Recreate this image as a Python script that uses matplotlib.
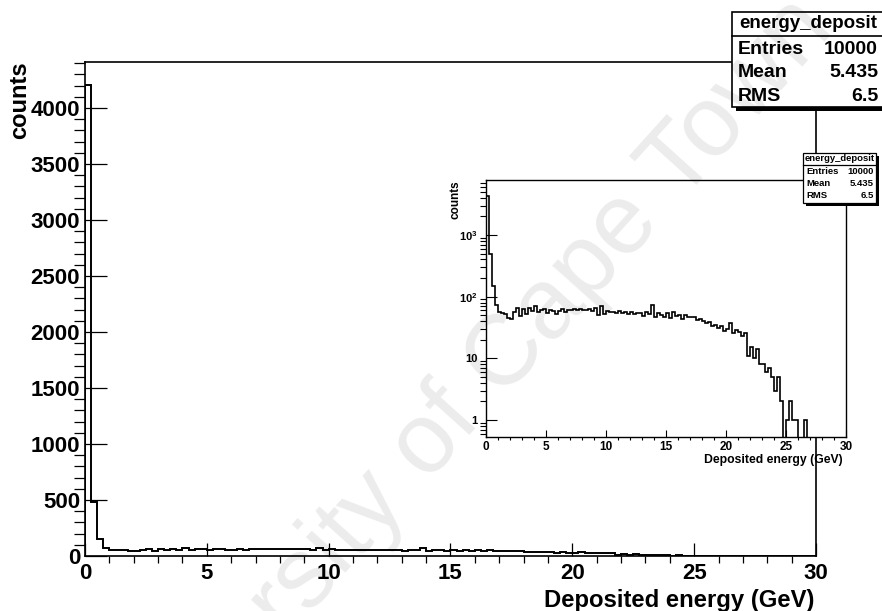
import numpy as np
import matplotlib
matplotlib.use("Agg")
import matplotlib.pyplot as plt
from matplotlib.patches import Rectangle
from matplotlib.lines import Line2D
from matplotlib.ticker import (MultipleLocator, LogLocator, FuncFormatter,
                               NullFormatter)

# ---- histogram contents: 120 bins of 0.25 GeV from 0 to 30 GeV ----
bin_width = 0.25
counts = [
    4205, 485, 150, 74,      # 0-1 GeV
    57, 54, 53, 45,          # 1-2
    44, 56, 66, 49,          # 2-3
    62, 52, 65, 58,          # 3-4
    70, 56, 60, 63,          # 4-5
    54, 61, 59, 52,          # 5-6
    58, 62, 57, 60,          # 6-7
    61, 62, 60, 63,          # 7-8
    61, 60, 62, 59,          # 8-9
    66, 50, 71, 52,          # 9-10
    59, 56, 57, 54,          # 10-11
    58, 55, 56, 53,          # 11-12
    57, 52, 55, 54,          # 12-13
    49, 56, 52, 74,          # 13-14
    46, 54, 50, 47,          # 14-15
    55, 45, 57, 49,          # 15-16
    51, 44, 50, 46,          # 16-17
    47, 46, 42, 43,          # 17-18
    40, 37, 39, 33,          # 18-19
    35, 31, 33, 28,          # 19-20
    30, 37, 26, 29,          # 20-21
    27, 23, 26, 11,          # 21-22
    15, 10, 14, 8,           # 22-23
    8, 6, 7, 5,              # 23-24
    3, 5, 2, 0,              # 24-25
    1, 2, 1, 1,              # 25-26
    0, 0, 1, 0,              # 26-27
    0, 0, 0, 0,              # 27-28
    0, 0, 0, 0,              # 28-29
    0, 0, 0, 0,              # 29-30
]
counts = np.array(counts, dtype=float)
edges = np.arange(len(counts) + 1) * bin_width

hist_name = "energy_deposit"
stat_names = ["Entries", "Mean", "RMS"]
stat_values = ["10000", "5.435", "6.5"]

x_title = "Deposited energy (GeV)"
y_title = "counts"
watermark = "University of Cape Town"

x_range = (0, 30)
y_range_lin = (0, 4410)
y_range_log = (0.53, 7780)

# ---- style ----
plt.rcParams["font.family"] = ["Liberation Sans", "DejaVu Sans"]
plt.rcParams["font.weight"] = "bold"
plt.rcParams["mathtext.fontset"] = "custom"
plt.rcParams["mathtext.rm"] = "Liberation Sans:bold"
plt.rcParams["mathtext.bf"] = "Liberation Sans:bold"
plt.rcParams["mathtext.default"] = "bf"

W, H = 882, 611
fig = plt.figure(figsize=(W / 100, H / 100), dpi=100)


def fx(x):
    return x / W


def fy(y):
    return 1 - y / H


def frame(x0, y0, x1, y1):
    return [fx(x0), fy(y1), (x1 - x0) / W, (y1 - y0) / H]


# ---- main linear histogram ----
ax = fig.add_axes(frame(85, 62, 816, 556))
ax.stairs(counts, edges, color="k", lw=1.4)
ax.set_xlim(*x_range)
ax.set_ylim(*y_range_lin)
ax.xaxis.set_major_locator(MultipleLocator(5))
ax.xaxis.set_minor_locator(MultipleLocator(1))
ax.yaxis.set_major_locator(MultipleLocator(500))
ax.yaxis.set_minor_locator(MultipleLocator(100))
ax.tick_params(direction="in", top=False, right=False, colors="k")
ax.tick_params(axis="x", which="major", length=9.5, width=0.9, pad=5,
               labelsize=16)
ax.tick_params(axis="x", which="minor", length=5, width=0.9)
ax.tick_params(axis="y", which="major", length=16, width=0.9, pad=3.5,
               labelsize=16)
ax.tick_params(axis="y", which="minor", length=8, width=0.9)
for s in ax.spines.values():
    s.set_linewidth(1.2)
ax.set_xticks([0, 5, 10, 15, 20, 25, 30])
ax.set_yticks(np.arange(0, 4001, 500))

fig.text(fx(815), fy(600), x_title, ha="right", va="center", fontsize=17.2)
fig.text(fx(20), fy(61), y_title, rotation=90, ha="center", va="top",
         fontsize=17)

# ---- inset: same histogram on a log scale ----
ins = fig.add_axes(frame(486, 180, 846, 437), facecolor="white", zorder=3)
log_counts = np.where(counts > 0, counts, 0.1)
ins.stairs(log_counts, edges, baseline=0.1, color="k", lw=1.2)
ins.set_yscale("log")
ins.set_xlim(*x_range)
ins.set_ylim(*y_range_log)
ins.xaxis.set_major_locator(MultipleLocator(5))
ins.xaxis.set_minor_locator(MultipleLocator(1))
ins.yaxis.set_major_locator(LogLocator(base=10, numticks=10))
ins.yaxis.set_minor_locator(LogLocator(base=10, subs=np.arange(2, 10),
                                       numticks=20))
ins.yaxis.set_minor_formatter(NullFormatter())


def log_label(v, pos):
    e = int(round(np.log10(v)))
    if e == 0:
        return "1"
    if e == 1:
        return "10"
    return r"$10^{%d}$" % e


ins.yaxis.set_major_formatter(FuncFormatter(log_label))
ins.tick_params(direction="in", top=False, right=False, colors="k")
ins.tick_params(axis="x", which="major", length=5, width=0.8, pad=3,
                labelsize=8.5)
ins.tick_params(axis="x", which="minor", length=2.5, width=0.8)
ins.tick_params(axis="y", which="major", length=8, width=0.8, pad=6,
                labelsize=8)
ins.tick_params(axis="y", which="minor", length=4, width=0.8)
for s in ins.spines.values():
    s.set_linewidth(1.0)

fig.text(fx(843), fy(460), x_title, ha="right", va="center", fontsize=8.8)
fig.text(fx(455), fy(180), y_title, rotation=90, ha="center", va="top",
         fontsize=8.5)


# ---- statistics boxes ----
def stats_box(x0, y0, x1, y1, head, shadow, title_fs, row_fs, rows_y,
              left, right, lw):
    fig.add_artist(Rectangle((fx(x0 + shadow), fy(y1 + shadow)),
                             (x1 - x0) / W, (y1 - y0) / H,
                             transform=fig.transFigure, facecolor="k",
                             edgecolor="none", zorder=8))
    fig.add_artist(Rectangle((fx(x0), fy(y1)), (x1 - x0) / W, (y1 - y0) / H,
                             transform=fig.transFigure, facecolor="white",
                             edgecolor="k", lw=lw, zorder=9))
    fig.add_artist(Line2D([fx(x0), fx(x1)], [fy(head), fy(head)],
                          transform=fig.transFigure, color="k", lw=lw,
                          zorder=10))
    fig.text(fx((left + right) / 2), fy((y0 + head) / 2), hist_name,
             ha="center", va="center", fontsize=title_fs, zorder=11)
    for name, val, yy in zip(stat_names, stat_values, rows_y):
        fig.text(fx(left), fy(yy), name, ha="left", va="center",
                 fontsize=row_fs, zorder=11)
        fig.text(fx(right), fy(yy), val, ha="right", va="center",
                 fontsize=row_fs, zorder=11)


stats_box(732, 12, 886, 107, 36, 4, 13.5, 14, [50, 72.5, 96.5],
          738, 878, 1.2)
stats_box(803, 153, 876, 203, 165, 3, 6.8, 6.8, [171.5, 183.5, 196],
          806, 874, 0.9)

# ---- light diagonal watermark ----
fig.text(fx(456), fy(413), watermark, rotation=48, rotation_mode="anchor",
         ha="center", va="center", fontsize=72, fontweight="normal",
         color="k", alpha=0.08, zorder=20)

fig.savefig("out.png", dpi=100, facecolor="white")
